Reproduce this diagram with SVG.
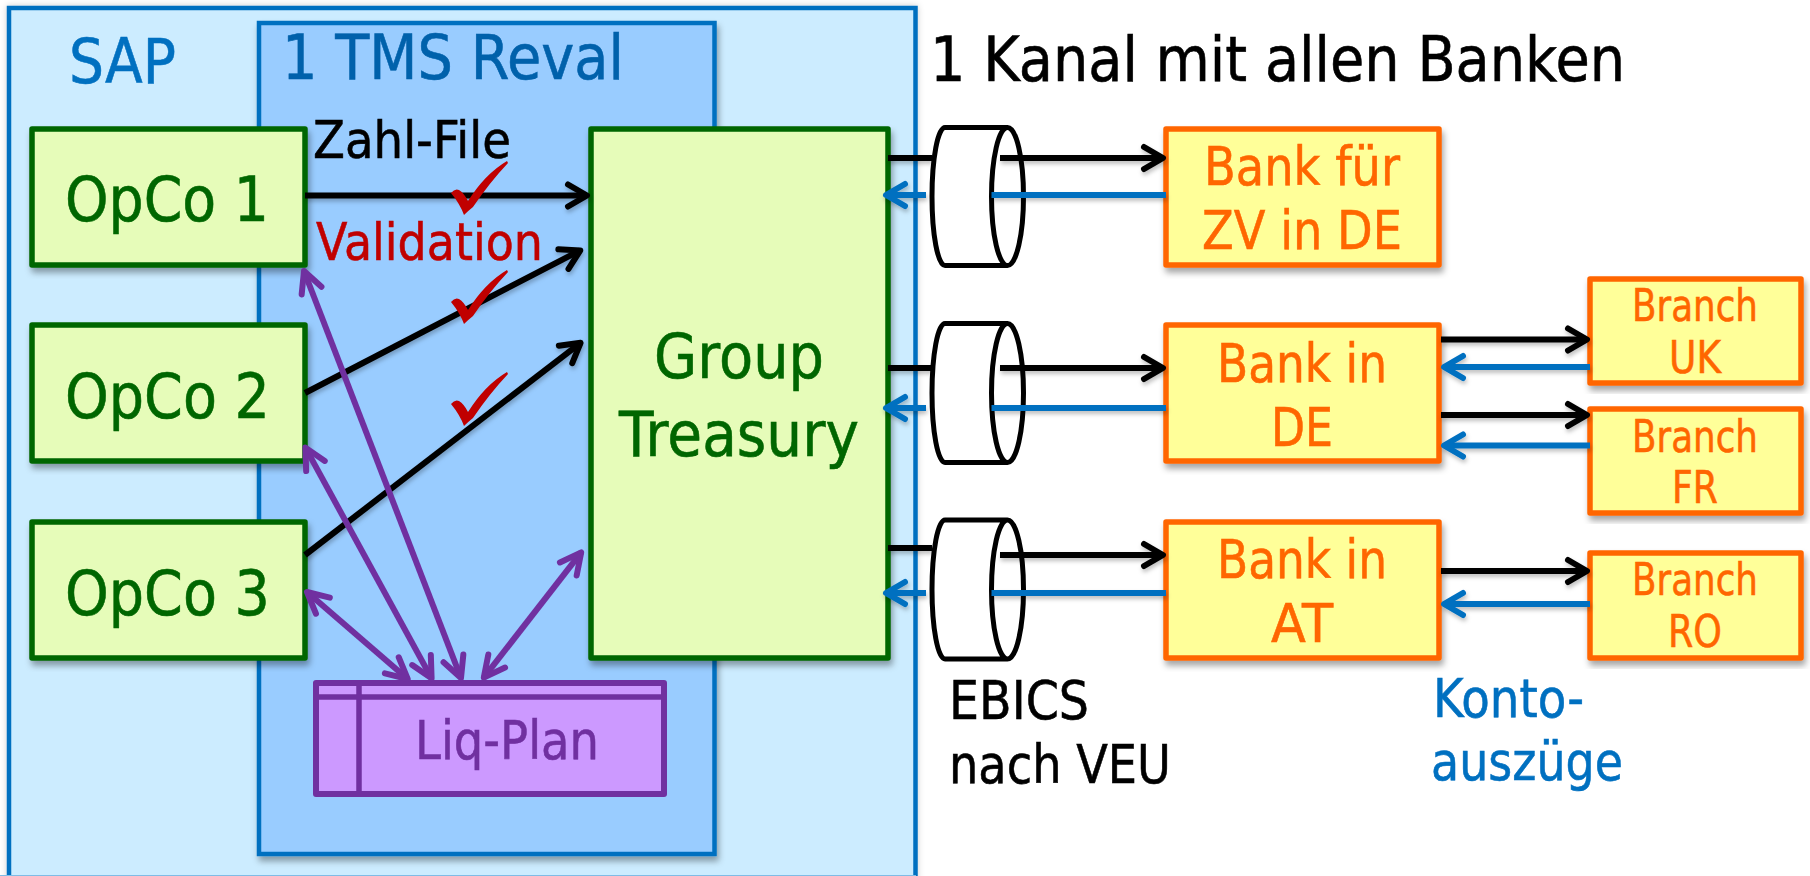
<svg xmlns="http://www.w3.org/2000/svg" width="1810" height="876" viewBox="0 0 1810 876">
<style>
text{font-family:"DejaVu Sans","Liberation Sans",sans-serif;stroke-width:.6}
.c{text-anchor:middle}
.g{fill:#E6FCB9;stroke:#006600;stroke-width:5.500;stroke-linejoin:round;filter:url(#sh)}
.gt{fill:#006600;stroke:#006600;font-size:62px}
.b{fill:#FFFF99;stroke:#FF6600;stroke-width:5.500;stroke-linejoin:round;filter:url(#sh)}
.bt{fill:#FF6600;stroke:#FF6600;font-size:54px}
.brt{fill:#FF6600;stroke:#FF6600;font-size:44px}
.cyl{fill:#fff;stroke:#000;stroke-width:5}
.bl{stroke:#000;stroke-width:6;fill:none;filter:url(#ls)}
.blu{stroke:#0070C0;stroke-width:6;fill:none;filter:url(#ls)}
.pu{stroke:#7030A0;stroke-width:6;fill:none}
.chk{fill:#C00000}
</style>
<defs>
<filter id="sh" x="-10%" y="-10%" width="120%" height="120%"><feDropShadow dx="2" dy="5" stdDeviation="3" flood-color="#000" flood-opacity=".35"/></filter>
<filter id="so" filterUnits="userSpaceOnUse" x="0" y="0" width="1810" height="876"><feDropShadow dx="0" dy="0" stdDeviation="3" flood-color="#000" flood-opacity=".2"/></filter>
<filter id="ls" filterUnits="userSpaceOnUse" x="0" y="0" width="1810" height="876"><feDropShadow dx="1" dy="3" stdDeviation="2" flood-color="#000" flood-opacity=".25"/></filter>
<marker id="ak" markerUnits="userSpaceOnUse" markerWidth="30" markerHeight="30" refX="24" refY="14" orient="auto" overflow="visible"><path d="M5,3 L24,14 L5,25" fill="none" stroke="#000" stroke-width="6" stroke-linecap="round" stroke-linejoin="round"/></marker>
<marker id="ab" markerUnits="userSpaceOnUse" markerWidth="30" markerHeight="30" refX="24" refY="14" orient="auto" overflow="visible"><path d="M5,3 L24,14 L5,25" fill="none" stroke="#0070C0" stroke-width="6" stroke-linecap="round" stroke-linejoin="round"/></marker>
<marker id="ap" markerUnits="userSpaceOnUse" markerWidth="30" markerHeight="30" refX="24" refY="14" orient="auto-start-reverse" overflow="visible"><path d="M3,3.400 L24,14 L3,24.600" fill="none" stroke="#7030A0" stroke-width="6" stroke-linecap="round" stroke-linejoin="round"/></marker>
<path id="chk" class="chk" d="M451,193 Q455,188 459,190 Q464,193 468,201 Q485,174 507,161 L508,163 Q490,182 473,207 Q468,211 464,215 Q460,204 451,193 Z"/>
</defs>

<g id="sap"><rect x="9" y="8" width="906.500" height="880" fill="#CCECFF" stroke="#0070C0" stroke-width="4.500" filter="url(#so)"/><path d="M0,875.500 H916" stroke="#7FBCE6" stroke-width="1"/><text x="69" y="83" font-size="63" fill="#0070C0" stroke="#0070C0" textLength="107" lengthAdjust="spacingAndGlyphs">SAP</text></g>
<g id="tms"><rect x="259" y="23" width="455.500" height="831" fill="#99CCFF" stroke="#0070C0" stroke-width="4.500" filter="url(#sh)"/><text x="282" y="79" font-size="63" fill="#0061AB" stroke="#0061AB" textLength="342" lengthAdjust="spacingAndGlyphs">1 TMS Reval</text></g>

<g id="opco1"><rect class="g" x="32" y="129" width="273" height="136"/><text class="gt" x="65" y="221" textLength="204" lengthAdjust="spacingAndGlyphs">OpCo 1</text></g>
<g id="opco2"><rect class="g" x="32" y="325" width="273" height="136"/><text class="gt" x="65" y="418" textLength="205" lengthAdjust="spacingAndGlyphs">OpCo 2</text></g>
<g id="opco3"><rect class="g" x="32" y="522" width="273" height="136"/><text class="gt" x="65" y="615" textLength="205" lengthAdjust="spacingAndGlyphs">OpCo 3</text></g>
<g id="group-treasury"><rect class="g" x="591" y="129" width="297" height="529"/><text class="gt" x="739" y="378" text-anchor="middle" textLength="170" lengthAdjust="spacingAndGlyphs">Group</text><text class="gt" x="739" y="456" text-anchor="middle" textLength="240" lengthAdjust="spacingAndGlyphs">Treasury</text></g>
<g id="liq-plan"><rect x="316" y="683" width="348" height="111" fill="#CC99FF" stroke="#7030A0" stroke-width="6" stroke-linejoin="round"/><path d="M316,697 H664 M359,683 V794" stroke="#7030A0" stroke-width="5.500" fill="none"/><text x="415" y="759" font-size="53" fill="#7030A0" stroke="#7030A0" textLength="184" lengthAdjust="spacingAndGlyphs">Liq-Plan</text></g>

<g id="label-zahl"><text x="313" y="158" font-size="52" fill="#000" stroke="#000" textLength="198" lengthAdjust="spacingAndGlyphs">Zahl-File</text></g>
<g id="label-validation"><text x="316" y="260" font-size="52" fill="#C00000" stroke="#C00000" textLength="227" lengthAdjust="spacingAndGlyphs">Validation</text></g>
<g id="label-kanal"><text x="930" y="81" font-size="62" fill="#000" stroke="#000" textLength="695" lengthAdjust="spacingAndGlyphs">1 Kanal mit allen Banken</text></g>
<g id="label-ebics"><text x="949" y="719" font-size="53" fill="#000" stroke="#000" textLength="140" lengthAdjust="spacingAndGlyphs">EBICS</text><text x="949" y="783" font-size="53" fill="#000" stroke="#000" textLength="222" lengthAdjust="spacingAndGlyphs">nach VEU</text></g>
<g id="label-konto"><text x="1433" y="717" font-size="53" fill="#0070C0" stroke="#0070C0" textLength="151" lengthAdjust="spacingAndGlyphs">Konto-</text><text x="1431" y="780" font-size="53" fill="#0070C0" stroke="#0070C0" textLength="192" lengthAdjust="spacingAndGlyphs">auszüge</text></g>

<g id="cyl1"><path class="cyl" d="M945,127.500 L1007.500,127.500 A16,69 0 0 1 1007.500,265.500 L945,265.500 A13,69 0 0 1 945,127.500 Z M1007.500,127.500 A16,69 0 0 0 1007.500,265.500"/></g>
<g id="cyl2"><path class="cyl" d="M945,323.500 L1007.500,323.500 A16,69.500 0 0 1 1007.500,462.500 L945,462.500 A13,69.500 0 0 1 945,323.500 Z M1007.500,323.500 A16,69.500 0 0 0 1007.500,462.500"/></g>
<g id="cyl3"><path class="cyl" d="M945,520 L1007.500,520 A16,69.500 0 0 1 1007.500,659 L945,659 A13,69.500 0 0 1 945,520 Z M1007.500,520 A16,69.500 0 0 0 1007.500,659"/></g>

<g id="bank-zv"><rect class="b" x="1166" y="129" width="273" height="136"/><text class="bt c" x="1302" y="185" textLength="196" lengthAdjust="spacingAndGlyphs">Bank für</text><text class="bt c" x="1302" y="249" textLength="200" lengthAdjust="spacingAndGlyphs">ZV in DE</text></g>
<g id="bank-de"><rect class="b" x="1166" y="325" width="273" height="136"/><text class="bt c" x="1302" y="382" textLength="170" lengthAdjust="spacingAndGlyphs">Bank in</text><text class="bt c" x="1302" y="446" textLength="62" lengthAdjust="spacingAndGlyphs">DE</text></g>
<g id="bank-at"><rect class="b" x="1166" y="522" width="273" height="136"/><text class="bt c" x="1302" y="578" textLength="170" lengthAdjust="spacingAndGlyphs">Bank in</text><text class="bt c" x="1302" y="642" textLength="62" lengthAdjust="spacingAndGlyphs">AT</text></g>
<g id="branch-uk"><rect class="b" x="1590" y="279" width="211" height="104"/><text class="brt c" x="1695" y="321" textLength="126" lengthAdjust="spacingAndGlyphs">Branch</text><text class="brt c" x="1695" y="373" textLength="52" lengthAdjust="spacingAndGlyphs">UK</text></g>
<g id="branch-fr"><rect class="b" x="1590" y="409" width="211" height="104"/><text class="brt c" x="1695" y="452" textLength="126" lengthAdjust="spacingAndGlyphs">Branch</text><text class="brt c" x="1695" y="503" textLength="46" lengthAdjust="spacingAndGlyphs">FR</text></g>
<g id="branch-ro"><rect class="b" x="1590" y="553" width="211" height="105"/><text class="brt c" x="1695" y="595" textLength="126" lengthAdjust="spacingAndGlyphs">Branch</text><text class="brt c" x="1695" y="647" textLength="54" lengthAdjust="spacingAndGlyphs">RO</text></g>

<g id="connectors">
<path class="bl" d="M305,195.500 H587" marker-end="url(#ak)"/>
<path class="bl" d="M305,393 L580.300,250.400" marker-end="url(#ak)"/>
<path class="bl" d="M305,555 L580.600,342.800" marker-end="url(#ak)"/>
<path class="bl" d="M888,158 H932"/><path class="bl" d="M1000,158 H1163" marker-end="url(#ak)"/>
<path class="bl" d="M888,368 H932"/><path class="bl" d="M1000,368 H1163" marker-end="url(#ak)"/>
<path class="bl" d="M888,548 H932"/><path class="bl" d="M1000,555 H1163" marker-end="url(#ak)"/>
<path class="bl" d="M1441,339.500 H1587" marker-end="url(#ak)"/>
<path class="bl" d="M1441,415 H1587" marker-end="url(#ak)"/>
<path class="bl" d="M1441,571 H1587" marker-end="url(#ak)"/>
<path class="blu" d="M1166,195 H991.500"/><path class="blu" d="M926,195 H886" marker-end="url(#ab)"/>
<path class="blu" d="M1166,408 H991.500"/><path class="blu" d="M926,408 H886" marker-end="url(#ab)"/>
<path class="blu" d="M1166,593 H991.500"/><path class="blu" d="M926,593 H886" marker-end="url(#ab)"/>
<path class="blu" d="M1590,367 H1444" marker-end="url(#ab)"/>
<path class="blu" d="M1590,445.500 H1444" marker-end="url(#ab)"/>
<path class="blu" d="M1590,604 H1444" marker-end="url(#ab)"/>
<path class="pu" d="M304,271 L461,678" marker-start="url(#ap)" marker-end="url(#ap)"/>
<path class="pu" d="M305.400,447.600 L431.600,678.400" marker-start="url(#ap)" marker-end="url(#ap)"/>
<path class="pu" d="M307,592 L407.700,679" marker-start="url(#ap)" marker-end="url(#ap)"/>
<path class="pu" d="M581.200,552.400 L483.800,677.600" marker-start="url(#ap)" marker-end="url(#ap)"/>
</g>
<g id="checks"><use href="#chk"/><use href="#chk" y="109"/><use href="#chk" y="211"/></g>
</svg>
